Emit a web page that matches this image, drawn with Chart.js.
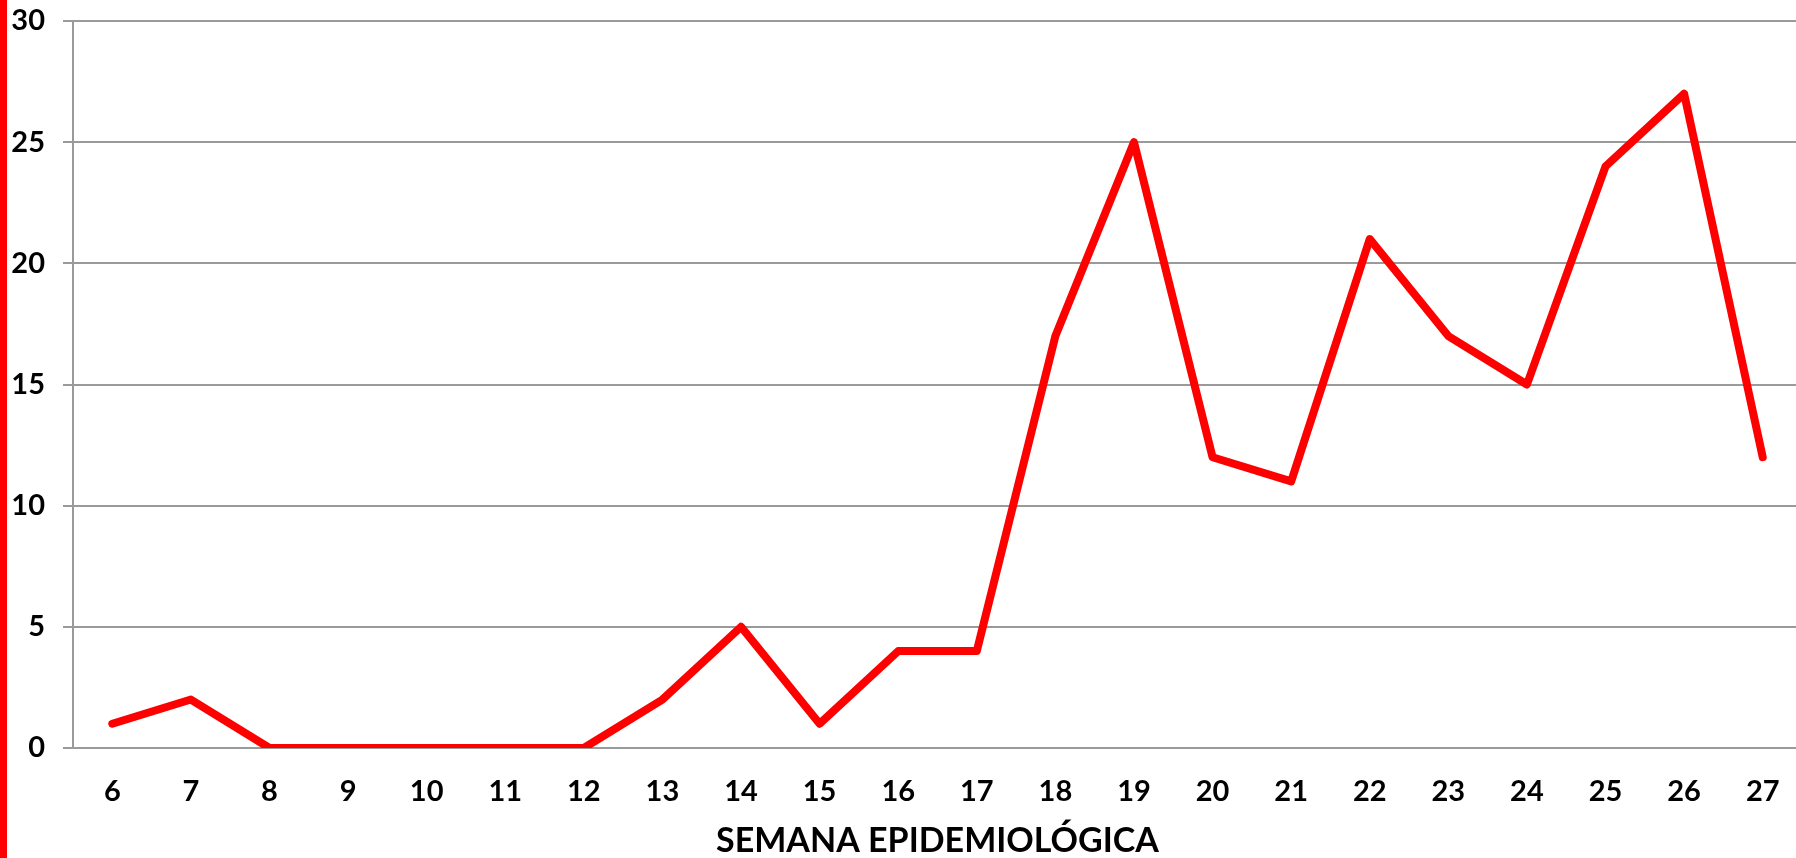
<!DOCTYPE html>
<html>
<head>
<meta charset="utf-8">
<script src="https://cdn.jsdelivr.net/npm/chart.js@4"></script>
<style>
  html, body { margin: 0; padding: 0; background: #fff; overflow: hidden; }
  #wrap { position: relative; width: 1802px; height: 858px; }
  #bar { position: absolute; left: 0; top: 0; width: 7px; height: 858px; background: #ff0000; }
</style>
</head>
<body>
<div id="wrap">
  <canvas id="chart" width="1802" height="858"></canvas>
  <div id="bar"></div>
</div>
<script>
const weeks = ["6", "7", "8", "9", "10", "11", "12", "13", "14", "15", "16",
  "17", "18", "19", "20", "21", "22", "23", "24", "25", "26", "27"];
const cases = [1, 2, 0, 0, 0, 0, 0, 2, 5, 1, 4, 4, 17, 25, 12, 11, 21, 17, 15, 24, 27, 12];
const xTitle = "SEMANA EPIDEMIOLÓGICA";

const tickFont = { family: "Lato", size: 29, weight: "bold" };

const ctx = document.getElementById("chart").getContext("2d");
const chart = new Chart(ctx, {
  type: "line",
  data: {
    labels: weeks,
    datasets: [
      {
        data: cases,
        borderColor: "#ff0000",
        borderWidth: 8,
        borderCapStyle: "round",
        borderJoinStyle: "round",
        pointRadius: 0,
        pointHoverRadius: 0,
        tension: 0,
        fill: false,
      },
    ],
  },
  options: {
    responsive: false,
    animation: false,
    layout: { padding: { top: 21, right: 0, left: 0, bottom: 0 } },
    plugins: {
      legend: { display: false },
      tooltip: { enabled: false },
    },
    scales: {
      x: {
        offset: true,
        grid: { display: false, drawTicks: false },
        border: { display: false },
        ticks: { color: "#000", font: tickFont, padding: 26, maxRotation: 0, autoSkip: false },
        title: {
          display: true,
          text: xTitle,
          color: "#000",
          font: { family: "Lato", size: 34, weight: "bold", lineHeight: 1 },
          padding: { top: 4, bottom: 0 },
        },
        afterFit: (scale) => {
          scale.height = 110;
          scale.paddingLeft = 0;
          scale.paddingRight = 0;
        },
      },
      y: {
        min: 0,
        max: 30,
        ticks: { stepSize: 5, color: "#000", font: tickFont, padding: 18 },
        grid: { color: "#9a9a9a", lineWidth: 2, tickLength: 10 },
        border: { display: true, color: "#9a9a9a", width: 2 },
        afterFit: (scale) => {
          scale.width = 73;
          scale.paddingTop = 0;
          scale.paddingBottom = 0;
        },
      },
    },
  },
});
</script>
</body>
</html>
